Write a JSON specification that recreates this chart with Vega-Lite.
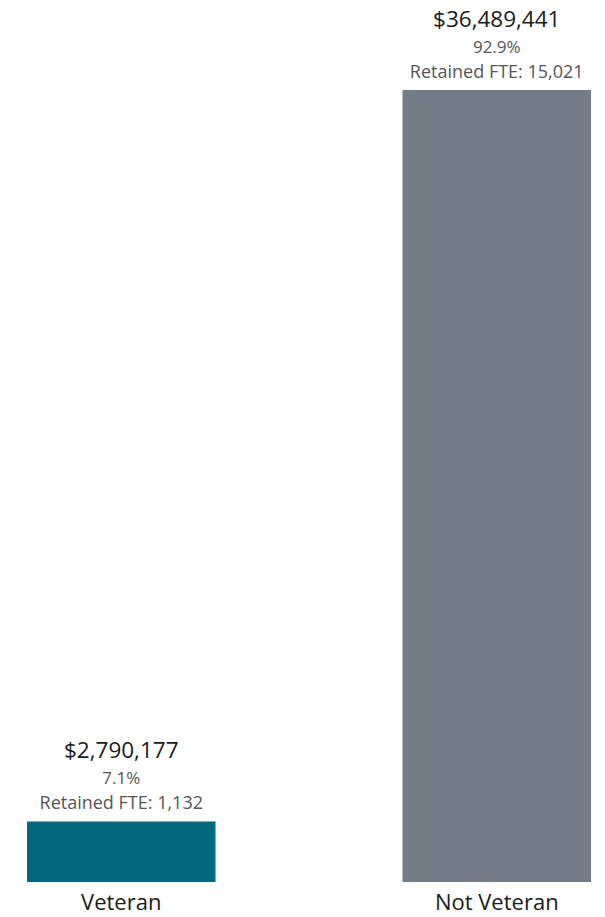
{
  "$schema": "https://vega.github.io/schema/vega-lite/v6.json",
  "width": 564,
  "height": 792,
  "autosize": {"type": "none"},
  "padding": {"left": 27, "top": 90, "right": 14, "bottom": 35},
  "background": "white",
  "config": {"view": {"stroke": null}, "font": "Open Sans"},
  "data": {
    "values": [
      {"category": "Veteran", "amount": 2790177, "share": 0.071, "fte": "Retained FTE: 1,132"},
      {"category": "Not Veteran", "amount": 36489441, "share": 0.929, "fte": "Retained FTE: 15,021"}
    ]
  },
  "encoding": {
    "x": {
      "field": "category", "type": "nominal", "sort": ["Veteran", "Not Veteran"],
      "scale": {"paddingInner": 0.498, "paddingOuter": 0},
      "axis": {"title": null, "domain": false, "ticks": false, "labelAngle": 0, "labelFontSize": 22, "labelColor": "#1a1a1a", "labelPadding": 10, "labelFont": "Open Sans"}
    },
    "y": {
      "field": "amount", "type": "quantitative",
      "scale": {"domain": [0, 36489441], "nice": false},
      "axis": null
    }
  },
  "layer": [
    {
      "mark": {"type": "bar"},
      "encoding": {
        "color": {
          "field": "category", "type": "nominal",
          "scale": {"domain": ["Veteran", "Not Veteran"], "range": ["#03687D", "#747C88"]},
          "legend": null
        }
      }
    },
    {
      "mark": {"type": "text", "baseline": "middle", "dy": -70, "fontSize": 22.5, "color": "#1a1a1a"},
      "encoding": {"text": {"field": "amount", "type": "quantitative", "format": "$,.0f"}}
    },
    {
      "mark": {"type": "text", "baseline": "middle", "dy": -42, "fontSize": 17, "color": "#555555"},
      "encoding": {"text": {"field": "share", "type": "quantitative", "format": ".1%"}}
    },
    {
      "mark": {"type": "text", "baseline": "middle", "dy": -17, "fontSize": 18, "color": "#555555"},
      "encoding": {"text": {"field": "fte", "type": "nominal"}}
    }
  ]
}
